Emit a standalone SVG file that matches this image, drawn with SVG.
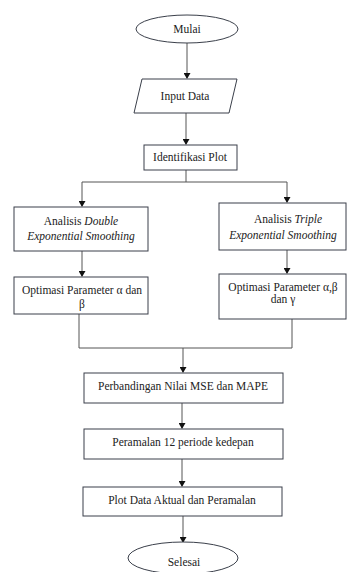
<svg xmlns="http://www.w3.org/2000/svg" width="347" height="572" viewBox="0 0 347 572">
<style>
.n{fill:#fff;stroke:#3a3f4a;stroke-width:1}
.c{fill:none;stroke:#555;stroke-width:1}
text{font-family:"Liberation Serif","Times New Roman",serif;font-size:11.5px;fill:#222;text-anchor:middle}
.i{font-style:italic}
</style>
<defs>
<marker id="ah" markerWidth="6" markerHeight="7" refX="5" refY="3.5" orient="auto" markerUnits="userSpaceOnUse">
<path d="M0,0 L6,3.5 L0,7 Z" fill="#111"/>
</marker>
</defs>
<rect width="347" height="572" fill="#fff"/>
<g id="connectors">
<line class="c" x1="187" y1="43" x2="187" y2="78" marker-end="url(#ah)"/>
<line class="c" x1="186" y1="113" x2="186" y2="144" marker-end="url(#ah)"/>
<polyline class="c" points="186,170 186,182"/>
<polyline class="c" points="82,182 287,182"/>
<line class="c" x1="82" y1="182" x2="82" y2="206" marker-end="url(#ah)"/>
<line class="c" x1="287" y1="182" x2="287" y2="202" marker-end="url(#ah)"/>
<line class="c" x1="82" y1="251" x2="82" y2="276" marker-end="url(#ah)"/>
<line class="c" x1="287" y1="250" x2="287" y2="273" marker-end="url(#ah)"/>
<polyline class="c" points="79,314 79,348 292,348 292,319"/>
<line class="c" x1="183" y1="348" x2="183" y2="372" marker-end="url(#ah)"/>
<line class="c" x1="182" y1="403" x2="182" y2="428" marker-end="url(#ah)"/>
<line class="c" x1="182" y1="459" x2="182" y2="486" marker-end="url(#ah)"/>
<line class="c" x1="183" y1="516" x2="183" y2="542" marker-end="url(#ah)"/>
</g>
<g id="mulai">
<ellipse class="n" cx="187" cy="29" rx="51" ry="14"/>
<text x="187" y="33">Mulai</text>
</g>
<g id="input-data">
<polygon class="n" points="142,79 237,79 229,113 134,113"/>
<text x="185" y="100">Input Data</text>
</g>
<g id="identifikasi-plot">
<rect class="n" x="144" y="145" width="93" height="25"/>
<text x="190" y="161">Identifikasi Plot</text>
</g>
<g id="analisis-double">
<rect class="n" x="14" y="207" width="134" height="44"/>
<text x="81" y="225">Analisis <tspan class="i">Double</tspan></text>
<text class="i" x="81" y="240">Exponential Smoothing</text>
</g>
<g id="analisis-triple">
<rect class="n" x="219" y="203" width="127" height="47"/>
<text x="288" y="223">Analisis <tspan class="i">Triple</tspan></text>
<text class="i" x="283" y="239">Exponential Smoothing</text>
</g>
<g id="optimasi-double">
<rect class="n" x="14" y="277" width="134" height="37"/>
<text x="82" y="294">Optimasi Parameter α dan</text>
<text x="82" y="308">β</text>
</g>
<g id="optimasi-triple">
<rect class="n" x="219" y="274" width="127" height="45"/>
<text x="283" y="291">Optimasi Parameter α,β</text>
<text x="283" y="303">dan γ</text>
</g>
<g id="perbandingan">
<rect class="n" x="84" y="373" width="199" height="30"/>
<text x="183" y="390">Perbandingan Nilai MSE dan MAPE</text>
</g>
<g id="peramalan">
<rect class="n" x="84" y="429" width="199" height="30"/>
<text x="183" y="446">Peramalan 12 periode kedepan</text>
</g>
<g id="plot-data">
<rect class="n" x="83" y="487" width="199" height="29"/>
<text x="182" y="504">Plot Data Aktual dan Peramalan</text>
</g>
<g id="selesai">
<ellipse class="n" cx="183" cy="558" rx="55" ry="16"/>
<text x="184" y="566">Selesai</text>
</g>
</svg>
